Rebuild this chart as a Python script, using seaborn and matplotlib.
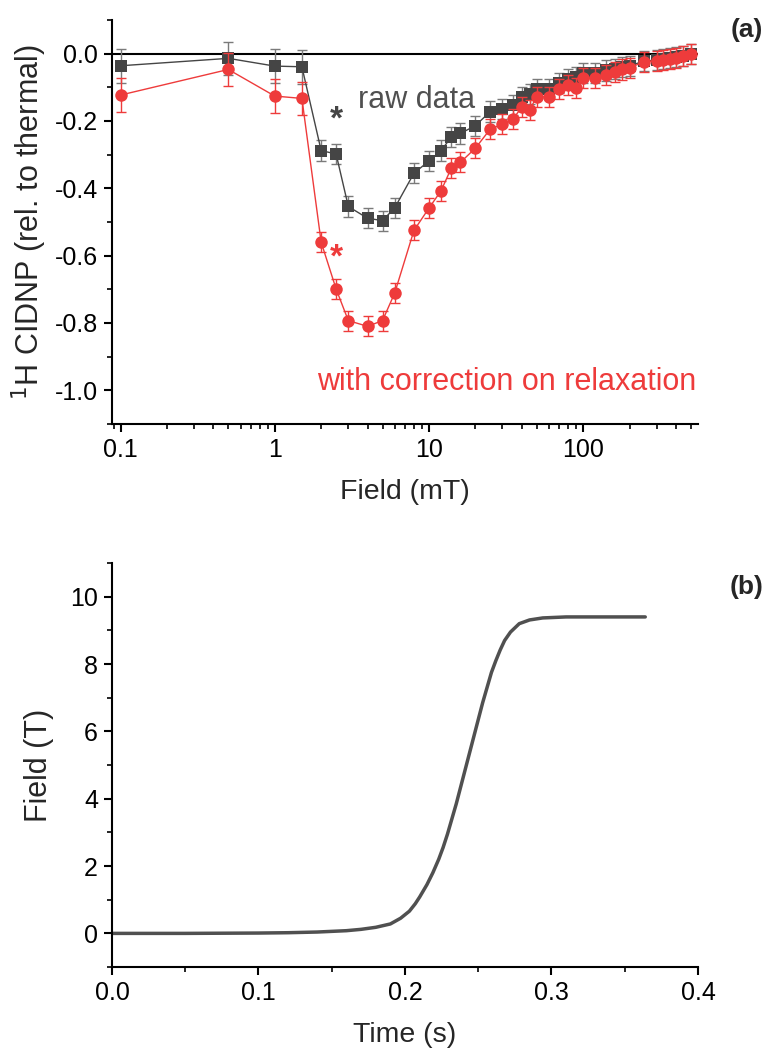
import numpy as np
import pandas as pd
import matplotlib
matplotlib.use("Agg")
import matplotlib.pyplot as plt
import seaborn as sns
from matplotlib.ticker import FixedLocator, FuncFormatter, LogLocator, MultipleLocator, NullFormatter

sns.set_theme(style="ticks")
plt.rcParams['font.family'] = ['Liberation Sans', 'DejaVu Sans']

# ---------------- data ----------------
field_mT = [0.1, 0.5, 1, 1.5, 2, 2.5, 3, 4, 5, 6, 8, 10, 12, 14, 16, 20, 25, 30, 35, 40,
            45, 50, 60, 70, 80, 90, 100, 120, 140, 160, 180, 200, 250, 300, 330, 365,
            400, 445, 500]
raw_cidnp = [-0.036, -0.014, -0.037, -0.039, -0.288, -0.298, -0.454, -0.489, -0.496, -0.458,
             -0.355, -0.319, -0.288, -0.247, -0.237, -0.214, -0.172, -0.164, -0.153, -0.128,
             -0.120, -0.106, -0.106, -0.088, -0.076, -0.070, -0.058, -0.057, -0.050, -0.045,
             -0.040, -0.036, -0.022, -0.019, -0.017, -0.014, -0.010, -0.006, 0.000]
raw_err = [0.05, 0.05, 0.05, 0.05] + [0.03] * 35
corr_cidnp = [-0.123, -0.047, -0.126, -0.133, -0.560, -0.699, -0.793, -0.810, -0.793, -0.711,
              -0.525, -0.459, -0.407, -0.339, -0.323, -0.281, -0.224, -0.210, -0.195, -0.159,
              -0.167, -0.128, -0.128, -0.106, -0.093, -0.103, -0.073, -0.073, -0.064, -0.054,
              -0.047, -0.042, -0.024, -0.021, -0.019, -0.017, -0.012, -0.008, -0.001]
corr_err = [0.05, 0.05, 0.05, 0.05] + [0.03] * 35

time_s = [0.0, 0.05, 0.10, 0.12, 0.14, 0.16, 0.17, 0.18, 0.19, 0.197, 0.203, 0.207, 0.21,
          0.215, 0.219, 0.223, 0.226, 0.229, 0.232, 0.235, 0.238, 0.241, 0.244, 0.247,
          0.25, 0.253, 0.256, 0.259, 0.262, 0.265, 0.268, 0.272, 0.278, 0.285,
          0.294, 0.31, 0.33, 0.364]
field_T = [0.0, 0.0, 0.01, 0.02, 0.04, 0.08, 0.12, 0.18, 0.28, 0.45, 0.66, 0.88, 1.08,
           1.45, 1.80, 2.20, 2.55, 2.95, 3.40, 3.85, 4.35, 4.85, 5.35, 5.85,
           6.35, 6.85, 7.30, 7.75, 8.10, 8.42, 8.70, 8.95, 9.20, 9.31,
           9.37, 9.40, 9.40, 9.40]

x_ticks_a = [0.1, 1, 10, 100]
x_ticklabels_a = ["0.1", "1", "10", "100"]

GREY = "#454545"
GREY_ERR = "#7a7a7a"
RED = "#ee3b3b"

df_raw = pd.DataFrame({"field": field_mT, "val": raw_cidnp, "err": raw_err})
df_cor = pd.DataFrame({"field": field_mT, "val": corr_cidnp, "err": corr_err})
df_b = pd.DataFrame({"t": time_s, "B": field_T})

fig = plt.figure(figsize=(7.64, 10.57), dpi=100)
ax1 = fig.add_axes([0.1466, 0.5989, 0.767, 0.3822])
ax2 = fig.add_axes([0.1466, 0.0851, 0.767, 0.3822])

# ---------------- panel (a) ----------------
ax1.axhline(0, color="black", lw=1.5, zorder=1)
ax1.errorbar(df_raw["field"], df_raw["val"], yerr=df_raw["err"], fmt="none",
             ecolor=GREY_ERR, elinewidth=1.0, capsize=3.8, capthick=1.0, zorder=2)
sns.lineplot(data=df_raw, x="field", y="val", ax=ax1, color=GREY, lw=1.0,
             marker="s", markersize=8, markeredgewidth=0, markerfacecolor=GREY,
             zorder=3, estimator=None, sort=False)
ax1.errorbar(df_cor["field"], df_cor["val"], yerr=df_cor["err"], fmt="none",
             ecolor=RED, elinewidth=1.0, capsize=3.8, capthick=1.0, zorder=4)
sns.lineplot(data=df_cor, x="field", y="val", ax=ax1, color=RED, lw=1.0,
             marker="o", markersize=9, markeredgewidth=0, markerfacecolor=RED,
             zorder=5, estimator=None, sort=False)

ax1.set_xscale("log")
ax1.set_xlim(0.088, 556)
ax1.set_ylim(-1.1, 0.1)
ax1.xaxis.set_major_locator(FixedLocator(x_ticks_a))
ax1.xaxis.set_major_formatter(FuncFormatter(lambda v, p: x_ticklabels_a[x_ticks_a.index(v)] if v in x_ticks_a else ""))
ax1.xaxis.set_minor_locator(LogLocator(base=10, subs=np.arange(2, 10)))
ax1.xaxis.set_minor_formatter(NullFormatter())
ax1.yaxis.set_major_locator(FixedLocator([0.0, -0.2, -0.4, -0.6, -0.8, -1.0]))
ax1.yaxis.set_major_formatter(FuncFormatter(lambda v, p: f"{v:.1f}"))
ax1.yaxis.set_minor_locator(MultipleLocator(0.1))

ax1.set_xlabel("Field (mT)", fontsize=20.5, labelpad=12)
ax1.set_ylabel("$^{1}$H CIDNP (rel. to thermal)", fontsize=22, labelpad=4)

ax1.text(2.5, -0.197, "*", color=GREY, fontsize=24, fontweight="bold", ha="center", va="center")
ax1.text(2.5, -0.607, "*", color=RED, fontsize=24, fontweight="bold", ha="center", va="center")
ax1.text(3.45, -0.161, "raw data", color="#505050", fontsize=22, ha="left", va="baseline")
ax1.text(545, -1.0, "with correction on relaxation", color=RED, fontsize=22,
         ha="right", va="baseline")

# ---------------- panel (b) ----------------
sns.lineplot(data=df_b, x="t", y="B", ax=ax2, color="#505050", lw=2.5,
             estimator=None, sort=False)
ax2.set_xlim(0, 0.4)
ax2.set_ylim(-1, 11)
ax2.xaxis.set_major_locator(MultipleLocator(0.1))
ax2.xaxis.set_minor_locator(MultipleLocator(0.05))
ax2.xaxis.set_major_formatter(FuncFormatter(lambda v, p: f"{v:.1f}"))
ax2.yaxis.set_major_locator(MultipleLocator(2))
ax2.yaxis.set_minor_locator(MultipleLocator(1))
ax2.set_xlabel("Time (s)", fontsize=20.5, labelpad=12)
ax2.set_ylabel("Field (T)", fontsize=22, labelpad=12)

for ax in (ax1, ax2):
    for s in ("top", "right"):
        ax.spines[s].set_visible(False)
    for s in ("left", "bottom"):
        ax.spines[s].set_linewidth(1.5)
        ax.spines[s].set_color("black")
    ax.tick_params(which="major", direction="out", length=6, width=1.5,
                   labelsize=18, color="black", labelcolor="black", pad=4)
    ax.tick_params(which="minor", direction="out", length=3.5, width=1.2, color="black")
    ax.grid(False)

fig.text(0.999, 1 - 30 / 1057, "(a)", fontsize=19, fontweight="bold", ha="right", va="center")
fig.text(0.999, 1 - 587 / 1057, "(b)", fontsize=19, fontweight="bold", ha="right", va="center")

fig.savefig("out.png", dpi=100)
